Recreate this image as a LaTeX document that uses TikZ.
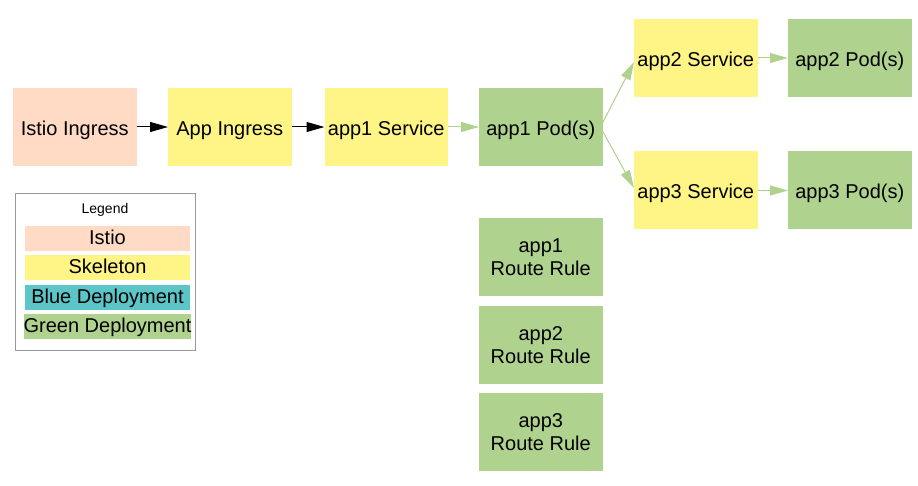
\documentclass[tikz,border=0pt]{standalone}
\usepackage{fontspec}
\setmainfont{Liberation Sans}
\usepackage{tikz}
\usetikzlibrary{positioning,arrows.meta}
\usepackage{xcolor}

\definecolor{istio}{HTML}{FFDAC5}
\definecolor{skeleton}{HTML}{FFF587}
\definecolor{bluedep}{HTML}{5CC5C8}
\definecolor{greendep}{HTML}{AFD38E}

\begin{document}
\begin{tikzpicture}[x=1pt, y=-1pt,
    box/.style={rectangle, minimum width=123.5pt, minimum height=78pt, inner sep=0pt,
      outer sep=0pt, align=center, font=\fontsize{20}{23}\selectfont},
    oneline/.style={text height=18pt, text depth=1pt},
    legenditem/.style={rectangle, minimum width=165pt, minimum height=25pt, inner sep=0pt,
      outer sep=0pt, text height=15pt, text depth=3pt, font=\fontsize{20}{23}\selectfont},
    flow/.style={-{Triangle[length=18pt,width=10pt]}, line width=1pt},
    greenflow/.style={flow, draw=greendep, fill=greendep}]
        \useasboundingbox (0,0) rectangle (918,486);
        % NODES
        % -----------------

        \node[box, oneline, fill=istio]                  (istio_ing) at (74.75,127) {Istio Ingress} ;
        \node[box, oneline, fill=skeleton, right=31.5pt of istio_ing]  (app_ing)   {App Ingress} ;
        \node[box, oneline, fill=skeleton, right=33pt of app_ing]      (app1_svc)  {app1 Service} ;
        \node[box, oneline, fill=greendep, right=31pt of app1_svc]     (app1_pod)  {app1 Pod(s)} ;

        \node[box, oneline, fill=skeleton, right=31.5pt of app1_pod, yshift=69pt]    (app2_svc) {app2 Service} ;
        \node[box, oneline, fill=skeleton, right=31.5pt of app1_pod, yshift=-63.5pt] (app3_svc) {app3 Service} ;
        \node[box, oneline, fill=greendep, right=30.5pt of app2_svc]  (app2_pod) {app2 Pod(s)} ;
        \node[box, oneline, fill=greendep, right=30.5pt of app3_svc]  (app3_pod) {app3 Pod(s)} ;

        % route rules
        \node[box, fill=greendep, below=52pt of app1_pod]  (app1_rule) {app1\\Route Rule} ;
        \node[box, fill=greendep, below=10pt of app1_rule] (app2_rule) {app2\\Route Rule} ;
        \node[box, fill=greendep, below=9pt of app2_rule]  (app3_rule) {app3\\Route Rule} ;

        % LEGEND
        % -----------------

        \node[draw=black!40, line width=1pt, minimum width=180pt, minimum height=156pt] (legend) at (105,272) {} ;
        \node[font=\fontsize{14}{16}\selectfont] (legend_title) at (105,210) {Legend} ;
        \node[legenditem, fill=istio]    (leg_istio) at (107.5,238.5) {Istio} ;
        \node[legenditem, fill=skeleton, below=4pt of leg_istio]    (leg_skel)  {Skeleton} ;
        \node[legenditem, fill=bluedep,  below=5pt of leg_skel]     (leg_blue)  {Blue Deployment} ;
        \node[legenditem, fill=greendep, below=4pt of leg_blue]     (leg_green) {Green Deployment} ;

        % EDGES
        % -----------------

        \draw[flow] (istio_ing) -- (app_ing) ;
        \draw[flow] (app_ing) -- (app1_svc) ;
        \draw[greenflow] (app1_svc) -- (app1_pod) ;
        \draw[greenflow] ([yshift=4pt]app1_pod.east) -- ([yshift=-4pt]app2_svc.west) ;
        \draw[greenflow] ([yshift=-4pt]app1_pod.east) -- ([yshift=2.5pt]app3_svc.west) ;
        \draw[greenflow] (app2_svc) -- (app2_pod) ;
        \draw[greenflow] (app3_svc) -- (app3_pod) ;

\end{tikzpicture}
\end{document}
